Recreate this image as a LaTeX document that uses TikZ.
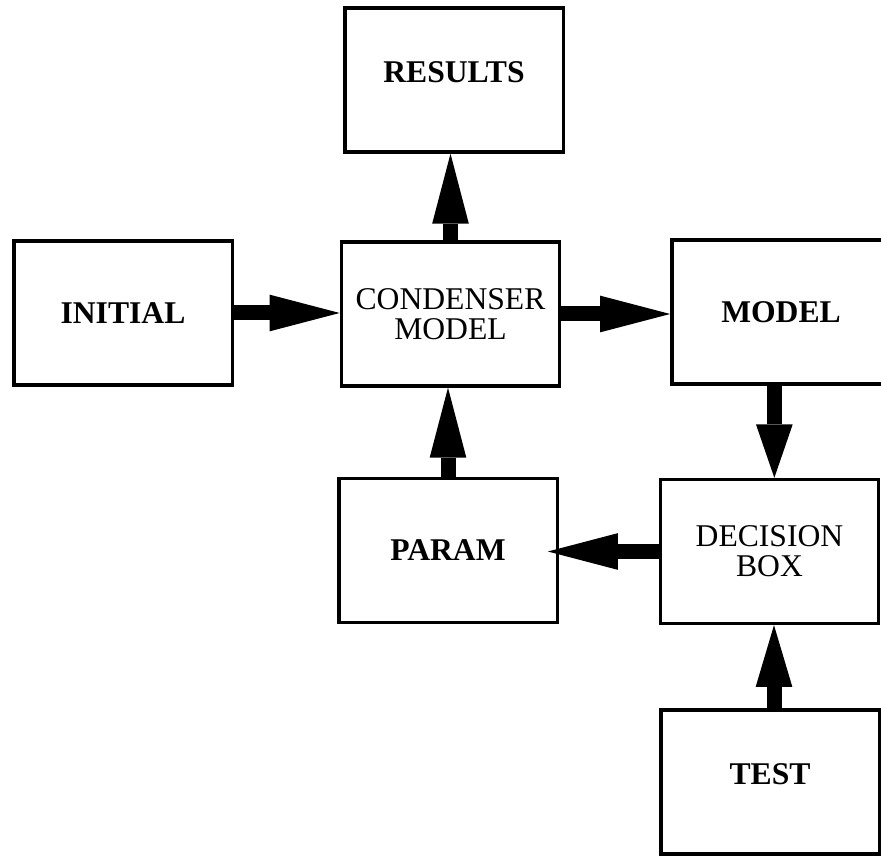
\documentclass[tikz,border=0pt]{standalone}
\usepackage{fontspec}
\setmainfont{Liberation Serif}
\usetikzlibrary{arrows.meta}

\begin{document}
\begin{tikzpicture}[
    block/.style={draw, line width=0.1cm, minimum width=6.55cm, minimum height=4.32cm,
        inner sep=0pt, align=center, font=\fontsize{27}{25.5}\selectfont},
    boldblock/.style={block, font=\fontsize{27}{25.5}\selectfont\bfseries},
    bigarrow/.style={line width=0.45cm, -{Triangle[length=#1, width=1.1cm, line width=0pt]}},
    bigarrow/.default=2.1cm
]
            \useasboundingbox (0,0) rectangle (26.43,25.74);
            \clip (0,0) rectangle (26.43,25.74);

            % Boxes
            \node[boldblock, text depth=0.5cm] (res) at (13.62,23.34) {RESULTS};
            \node[boldblock] (init) at (3.69,16.35) {INITIAL};
            \node[block] (cond) at (13.515,16.32) {CONDENSER\\MODEL};
            \node[boldblock] (mod) at (23.43,16.38) {MODEL};
            \node[boldblock] (par) at (13.44,9.225) {PARAM};
            \node[block] (dec) at (23.085,9.195) {DECISION\\BOX};
            \node[boldblock, text depth=0.5cm] (test) at (23.1,2.28) {TEST};

            % Arrows
            \draw[bigarrow] (init.east) -- (init.east -| cond.west);
            \draw[bigarrow] (cond.east) -- (cond.east -| mod.west);
            \draw[bigarrow] (cond.north) -- (cond.north |- res.south);
            \draw[bigarrow] (par.north) -- (par.north |- cond.south);
            \draw[bigarrow=1.6cm] ([xshift=-0.2cm]mod.south) -- ([xshift=-0.2cm]mod.south |- dec.north);
            \draw[bigarrow, shorten >=-0.33cm] (dec.west) -- (dec.west -| par.east);
            \draw[bigarrow=1.85cm] ([xshift=0.12cm]test.north) -- ([xshift=0.12cm]test.north |- dec.south);

\end{tikzpicture}
\end{document}
